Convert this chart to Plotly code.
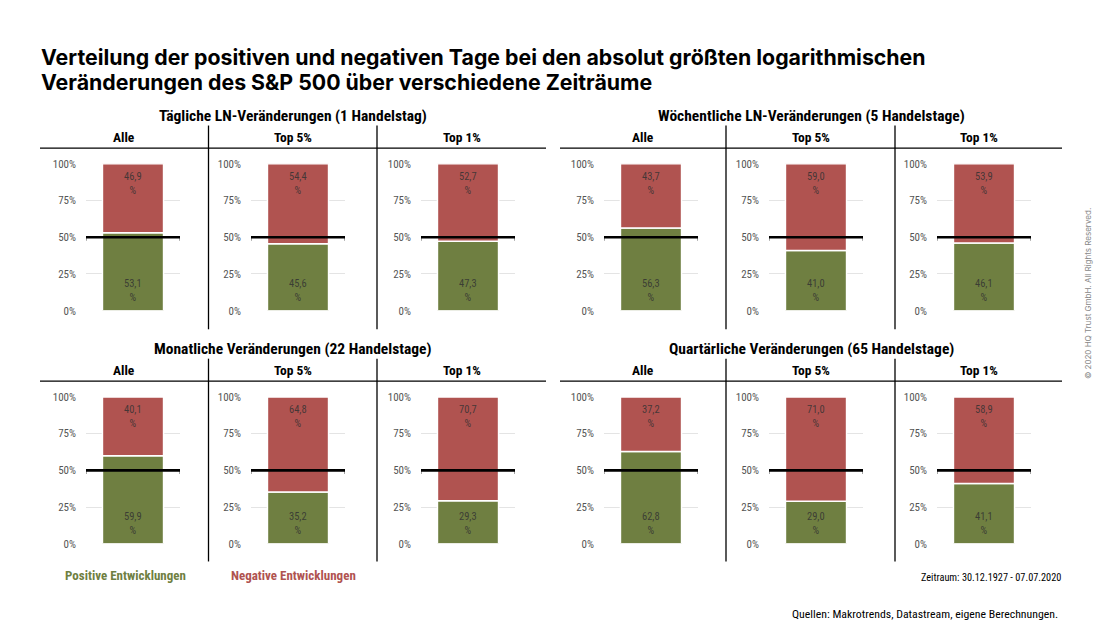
import plotly.graph_objects as go

# ---------------- data ----------------
group_titles = [
    "Tägliche LN-Veränderungen (1 Handelstag)",
    "Wöchentliche LN-Veränderungen (5 Handelstage)",
    "Monatliche Veränderungen (22 Handelstage)",
    "Quartärliche Veränderungen (65 Handelstage)",
]
columns = ["Alle", "Top 5%", "Top 1%"]
positive_daily = [53.1, 45.6, 47.3]
negative_daily = [46.9, 54.4, 52.7]
positive_weekly = [56.3, 41.0, 46.1]
negative_weekly = [43.7, 59.0, 53.9]
positive_monthly = [59.9, 35.2, 29.3]
negative_monthly = [40.1, 64.8, 70.7]
positive_quarterly = [62.8, 29.0, 41.1]
negative_quarterly = [37.2, 71.0, 58.9]
tick_vals = [0, 25, 50, 75, 100]
tick_text = ["0%", "25%", "50%", "75%", "100%"]
reference_level = 50
legend_labels = ["Positive Entwicklungen", "Negative Entwicklungen"]
period_note = "Zeitraum: 30.12.1927 - 07.07.2020"
source_note = "Quellen: Makrotrends, Datastream, eigene Berechnungen."
copyright_note = "© 2020 HQ Trust GmbH. All Rights Reserved."
title_lines = [
    "Verteilung der positiven und negativen Tage bei den absolut größten logarithmischen",
    "Veränderungen des S&P 500 über verschiedene Zeiträume",
]

positives = [positive_daily, positive_weekly, positive_monthly, positive_quarterly]
negatives = [negative_daily, negative_weekly, negative_monthly, negative_quarterly]

# ---------------- style ----------------
W, H = 1102, 639
GREEN = "#6f7f41"
RED = "#b05350"
COND = "Roboto Condensed, Liberation Sans Narrow, Arial Narrow, DejaVu Sans Condensed, sans-serif"
SANS = "Inter, Liberation Sans, Helvetica, Arial, sans-serif"

def px(x):
    return x / W

def py(y):
    return 1 - y / H

# panel pixel geometry (reference frame 1102 x 639)
grid_x = [(86, 180), (251, 345), (421, 515), (604, 698), (769, 863), (937, 1031)]
row_y = [(161, 311), (399, 549)]          # (100% y, 0% y)
col_cells = [(40, 208.5), (208.5, 377), (377, 546), (560, 726), (726, 895), (895, 1062)]
header_line_y = [145, 383]
col_header_y = [134, 372]
group_title_y = [112, 350]
vline_span = [(122, 330), (360, 567)]

def fmt(v):
    return f"{v:.1f}".replace(".", ",") + "<br>%"

fig = go.Figure()
layout = dict(
    autosize=True,
    margin=dict(l=0, r=0, t=0, b=0, pad=0),
    paper_bgcolor="white", plot_bgcolor="white",
    showlegend=False, barmode="overlay",
)
annotations = []
shapes = []
label_font = dict(family=COND, size=10.5, color="rgba(50,50,50,0.85)")

idx = 0
for g in range(4):
    row = g // 2
    gcol = g % 2
    for c in range(3):
        idx += 1
        col6 = gcol * 3 + c
        xa = "x" if idx == 1 else f"x{idx}"
        ya = "y" if idx == 1 else f"y{idx}"
        xkey = "xaxis" if idx == 1 else f"xaxis{idx}"
        ykey = "yaxis" if idx == 1 else f"yaxis{idx}"
        x0, x1 = grid_x[col6]
        ytop, ybot = row_y[row]
        layout[xkey] = dict(domain=[px(x0), px(x1)], range=[-0.5, 0.5], anchor=ya,
                            showgrid=False, zeroline=False, showticklabels=False,
                            showline=False, fixedrange=True)
        layout[ykey] = dict(domain=[py(ybot), py(ytop)], range=[0, 100], anchor=xa,
                            tickvals=tick_vals, ticktext=tick_text,
                            showgrid=True, gridcolor="#e4e4e4", gridwidth=1.3,
                            zeroline=False, showline=False, ticks="",
                            ticklabelstandoff=9,
                            tickfont=dict(family=COND, size=11, color="#555555"),
                            fixedrange=True)
        pos = positives[g][c]
        neg = negatives[g][c]
        fig.add_trace(go.Bar(
            x=[0], y=[pos], base=[0], width=0.65, xaxis=xa, yaxis=ya,
            marker=dict(color=GREEN, line=dict(color="white", width=1.5)),
            hoverinfo="skip"))
        fig.add_trace(go.Bar(
            x=[0], y=[neg], base=[pos], width=0.65, xaxis=xa, yaxis=ya,
            marker=dict(color=RED, line=dict(color="white", width=1.5)),
            hoverinfo="skip"))
        # value labels
        annotations.append(dict(x=0, y=0, xref=xa, yref=ya, text=fmt(pos),
                                showarrow=False, xanchor="center", yanchor="bottom",
                                yshift=5, font=label_font))
        annotations.append(dict(x=0, y=100, xref=xa, yref=ya, text=fmt(neg),
                                showarrow=False, xanchor="center", yanchor="top",
                                yshift=-4, font=label_font))
        # 50% reference bracket
        fig.add_trace(go.Scatter(
            x=[-0.51, -0.51, 0.51, 0.51],
            y=[reference_level - 2.5, reference_level, reference_level, reference_level - 2.5],
            mode="lines", line=dict(color="black", width=2.6),
            xaxis=xa, yaxis=ya, cliponaxis=False, hoverinfo="skip"))
        # column header
        cx0, cx1 = col_cells[col6]
        annotations.append(dict(
            x=px((cx0 + cx1) / 2), y=py(col_header_y[row]), xref="paper", yref="paper",
            text=f"<b>{columns[c]}</b>", showarrow=False, xanchor="center", yanchor="middle",
            font=dict(family=COND, size=13.5, color="black")))
    # group title
    gx0 = col_cells[gcol * 3][0]
    gx1 = col_cells[gcol * 3 + 2][1]
    annotations.append(dict(
        x=px((gx0 + gx1) / 2), y=py(group_title_y[row]), xref="paper", yref="paper",
        text=f"<b>{group_titles[g]}</b>", showarrow=False, xanchor="center", yanchor="middle",
        font=dict(family=COND, size=15.5, color="black")))
    # header horizontal line
    shapes.append(dict(type="line", xref="paper", yref="paper",
                       x0=px(gx0), x1=px(gx1), y0=py(header_line_y[row]), y1=py(header_line_y[row]),
                       line=dict(color="black", width=1.3)))
    # vertical separators
    for k in (1, 2):
        vx = col_cells[gcol * 3 + k][0]
        shapes.append(dict(type="line", xref="paper", yref="paper",
                           x0=px(vx), x1=px(vx), y0=py(vline_span[row][0]), y1=py(vline_span[row][1]),
                           line=dict(color="black", width=1.3)))

# title (two lines)
for i, line in enumerate(title_lines):
    annotations.append(dict(
        x=px(39), y=py(52 + 26 * i), xref="paper", yref="paper", text=f"<b>{line}</b>",
        showarrow=False, xanchor="left", yanchor="middle", align="left",
        font=dict(family=SANS, size=21.3, color="black")))
# legend texts
annotations.append(dict(
    x=px(63), y=py(581), xref="paper", yref="paper", text=f"<b>{legend_labels[0]}</b>",
    showarrow=False, xanchor="left", yanchor="middle",
    font=dict(family=COND, size=13, color=GREEN)))
annotations.append(dict(
    x=px(229), y=py(581), xref="paper", yref="paper", text=f"<b>{legend_labels[1]}</b>",
    showarrow=False, xanchor="left", yanchor="middle",
    font=dict(family=COND, size=13, color=RED)))
# notes
annotations.append(dict(
    x=px(1063), y=py(583), xref="paper", yref="paper", text=period_note,
    showarrow=False, xanchor="right", yanchor="middle",
    font=dict(family=COND, size=10.3, color="black")))
annotations.append(dict(
    x=px(1060), y=py(621), xref="paper", yref="paper", text=source_note,
    showarrow=False, xanchor="right", yanchor="middle",
    font=dict(family=COND, size=11.8, color="black")))
annotations.append(dict(
    x=px(1088), y=py(294), xref="paper", yref="paper", text=copyright_note,
    showarrow=False, xanchor="center", yanchor="middle", textangle=-90,
    font=dict(family=SANS, size=8, color="#888888")))

layout["annotations"] = annotations
layout["shapes"] = shapes
fig.update_layout(**layout)

fit_script = (
    "document.documentElement.style.height='100%';"
    "document.documentElement.style.overflow='hidden';"
    "document.body.style.height='100%';"
    "document.body.style.margin='0';"
    "document.body.style.overflow='hidden';"
    "var gd=document.getElementById('{plot_id}');"
    "gd.style.width='100vw';gd.style.height='100vh';"
    "Plotly.Plots.resize(gd);"
)
fig.write_html("out.html", config={"displayModeBar": False, "responsive": True},
               default_width="100%", default_height="100%", post_script=fit_script)
